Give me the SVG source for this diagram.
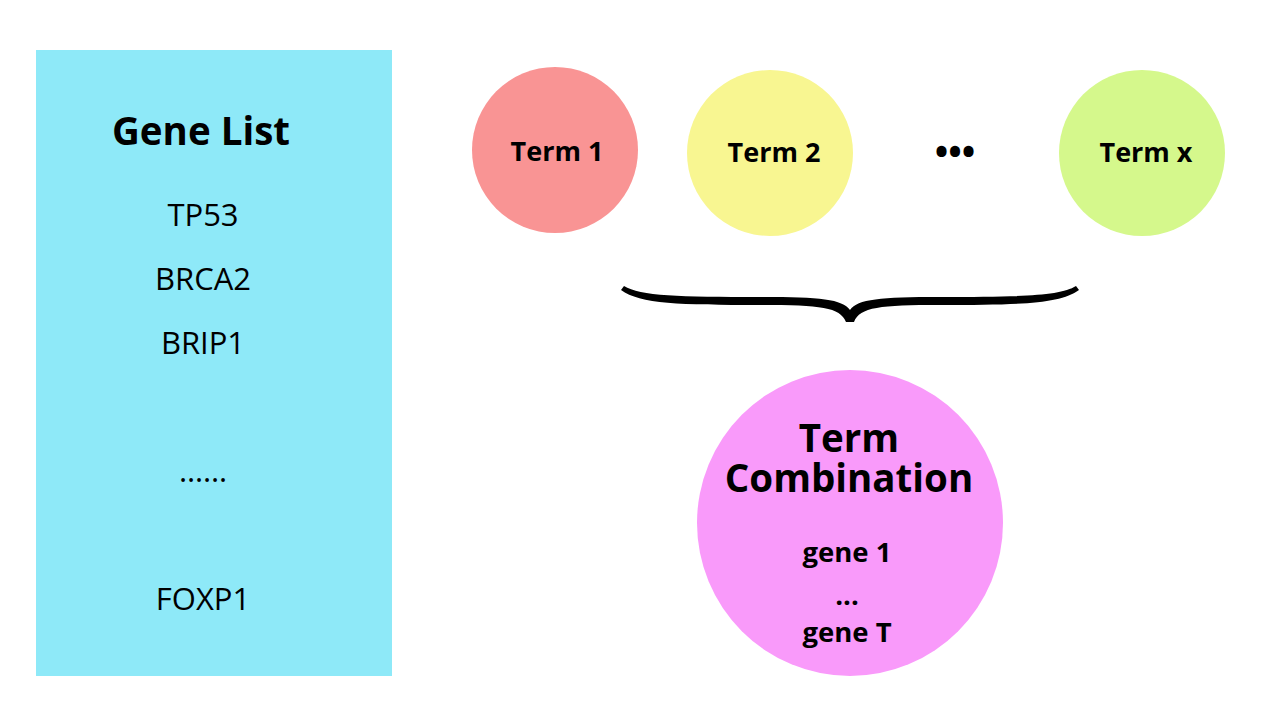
<svg xmlns="http://www.w3.org/2000/svg" width="1280" height="720" viewBox="0 0 1280 720">
<style>
text{font-family:"Open Sans","Noto Sans","DejaVu Sans",sans-serif;fill:#000;text-anchor:middle}
.b{font-weight:bold}
.g{font-size:31px}
.t{font-size:27px;font-weight:bold}
.s{font-size:27.5px;font-weight:bold}
</style>
<rect width="1280" height="720" fill="#fff"/>
<g id="gene-list">
<rect x="36" y="50" width="356" height="626" fill="#8EE9F8"/>
<text x="201" y="145" class="b" font-size="38.5">Gene List</text>
<text x="203" y="226" class="g">TP53</text>
<text x="203" y="290" class="g">BRCA2</text>
<text x="203" y="354" class="g">BRIP1</text>
<text x="203" y="482" class="g">……</text>
<text x="203" y="610" class="g">FOXP1</text>
</g>
<g id="term1">
<circle cx="555" cy="150" r="83" fill="#F99494"/>
<text x="557" y="161" class="t">Term 1</text>
</g>
<g id="term2">
<circle cx="770" cy="153" r="83" fill="#F8F691"/>
<text x="774" y="162" class="t">Term 2</text>
</g>
<g id="dots">
<text x="955" y="165" class="b" font-size="36">•••</text>
</g>
<g id="termx">
<circle cx="1142" cy="153" r="83" fill="#D5F88C"/>
<text x="1146" y="162" class="t">Term x</text>
</g>
<g id="connectors">
<path d="M621,290 C640,304 680,305 760,305 C820,305 840,307 846,322 L854,322 C860,307 880,305 940,305 C1020,305 1060,304 1079,290 L1076,286 C1060,296 1020,297 940,297 C880,297 858,299 850,310 C842,299 820,297 760,297 C680,297 640,296 624,286 Z" fill="#000"/>
</g>
<g id="term-combination">
<circle cx="850" cy="523" r="153" fill="#F99AFA"/>
<text x="849" y="452" class="b" font-size="38.5">Term</text>
<text x="849" y="492" class="b" font-size="38.5">Combination</text>
<text x="847" y="562" class="s">gene 1</text>
<text x="847" y="605" class="s">...</text>
<text x="847" y="642" class="s">gene T</text>
</g>
</svg>
